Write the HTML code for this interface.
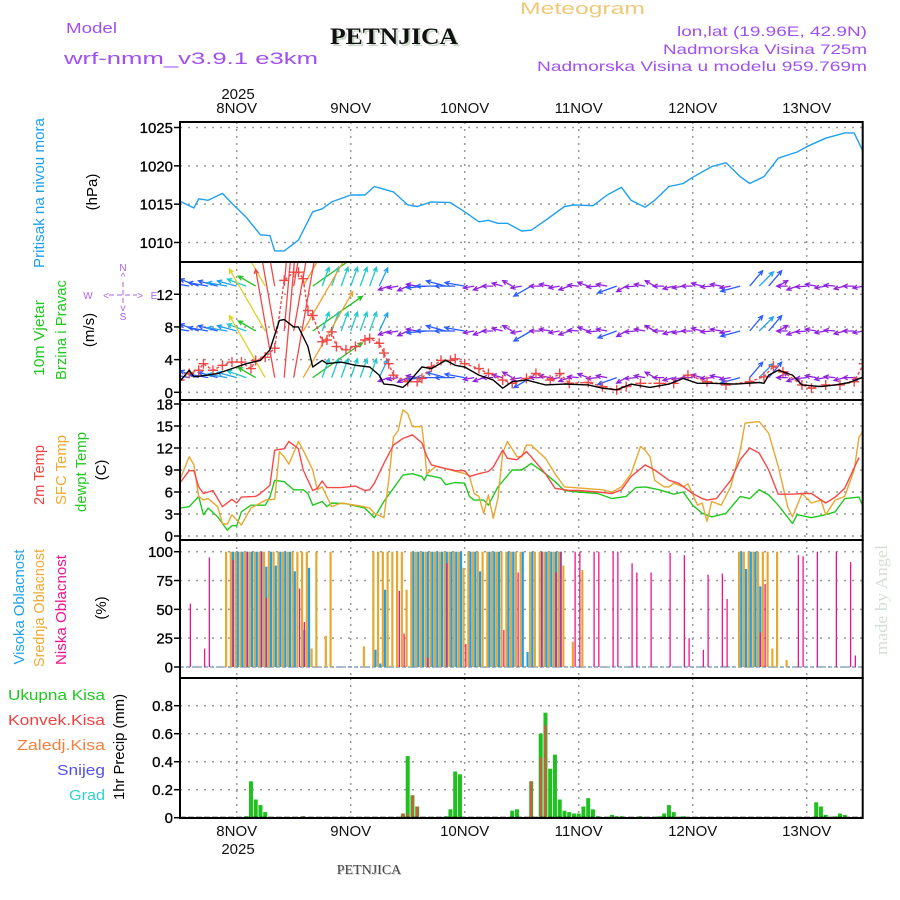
<!DOCTYPE html>
<html><head><meta charset="utf-8"><title>Meteogram PETNJICA</title>
<style>
html,body{margin:0;padding:0;background:#fff;}
svg{display:block;font-family:"Liberation Sans",sans-serif;}
</style></head>
<body>
<svg id="chart" width="900" height="900" viewBox="0 0 900 900" xmlns="http://www.w3.org/2000/svg">
<defs>
<clipPath id="clipP1"><rect x="180" y="122" width="683" height="140"/></clipPath>
<clipPath id="clipP2"><rect x="180" y="262" width="683" height="138"/></clipPath>
<clipPath id="clipP3"><rect x="180" y="400" width="683" height="140"/></clipPath>
</defs>
<rect x="0" y="0" width="900" height="900" fill="#fff"/>
<!-- header -->
<text x="66" y="33" font-size="15" fill="#A050F0" textLength="51" lengthAdjust="spacingAndGlyphs">Model</text>
<text x="64" y="64" font-size="17" fill="#A050F0" textLength="254" lengthAdjust="spacingAndGlyphs">wrf-nmm_v3.9.1  e3km</text>
<text x="520" y="14" font-size="17" fill="#F0C878" textLength="125" lengthAdjust="spacingAndGlyphs">Meteogram</text>
<text x="332" y="46" font-size="23" font-weight="bold" font-family="Liberation Serif, serif" fill="#c8d8c8" textLength="128" lengthAdjust="spacingAndGlyphs">PETNJICA</text>
<text x="330" y="44" font-size="23" font-weight="bold" font-family="Liberation Serif, serif" fill="#111" textLength="128" lengthAdjust="spacingAndGlyphs">PETNJICA</text>
<text x="867" y="36" font-size="14" fill="#A050F0" text-anchor="end" textLength="190" lengthAdjust="spacingAndGlyphs">lon,lat (19.96E, 42.9N)</text>
<text x="867" y="54" font-size="14" fill="#A050F0" text-anchor="end" textLength="204" lengthAdjust="spacingAndGlyphs">Nadmorska Visina 725m</text>
<text x="867" y="71" font-size="14" fill="#A050F0" text-anchor="end" textLength="330" lengthAdjust="spacingAndGlyphs">Nadmorska Visina u modelu 959.769m</text>

<!-- left labels -->
<text transform="translate(44,193) rotate(-90)" font-size="15" fill="#1EA0F0" text-anchor="middle" textLength="150" lengthAdjust="spacingAndGlyphs">Pritisak  na  nivou  mora</text>
<text transform="translate(97,192) rotate(-90)" font-size="15" fill="#000" text-anchor="middle">(hPa)</text>
<text transform="translate(44,338) rotate(-90)" font-size="15" fill="#20C820" text-anchor="middle" textLength="76" lengthAdjust="spacingAndGlyphs">10m Vjetar</text>
<text transform="translate(66,330) rotate(-90)" font-size="15" fill="#20C820" text-anchor="middle" textLength="100" lengthAdjust="spacingAndGlyphs">Brzina i Pravac</text>
<text transform="translate(94,330) rotate(-90)" font-size="15" fill="#000" text-anchor="middle">(m/s)</text>
<g font-size="10" fill="#B060F0">
<text x="123" y="271" text-anchor="middle">N</text><text x="123" y="280" text-anchor="middle">^</text>
<text x="123" y="320" text-anchor="middle">S</text><text x="123" y="311" text-anchor="middle">v</text>
<text x="88" y="299" text-anchor="middle">W</text><text x="154" y="299" text-anchor="middle">E</text>
<text x="106" y="299" text-anchor="middle">&lt;</text><text x="140" y="299" text-anchor="middle">&gt;</text>
<line x1="109" y1="295" x2="137" y2="295" stroke="#B060F0" stroke-dasharray="5,3"/>
<line x1="123" y1="282" x2="123" y2="306" stroke="#B060F0" stroke-dasharray="5,3"/>
</g>
<text transform="translate(44,475) rotate(-90)" font-size="15" fill="#F04040" text-anchor="middle" textLength="60" lengthAdjust="spacingAndGlyphs">2m Temp</text>
<text transform="translate(66,470) rotate(-90)" font-size="15" fill="#F0A830" text-anchor="middle" textLength="70" lengthAdjust="spacingAndGlyphs">SFC Temp</text>
<text transform="translate(86,472) rotate(-90)" font-size="15" fill="#20C820" text-anchor="middle" textLength="80" lengthAdjust="spacingAndGlyphs">dewpt Temp</text>
<text transform="translate(106,470) rotate(-90)" font-size="15" fill="#000" text-anchor="middle">(C)</text>
<text transform="translate(24,607) rotate(-90)" font-size="15" fill="#1EA0F0" text-anchor="middle" textLength="115" lengthAdjust="spacingAndGlyphs">Visoka Oblacnost</text>
<text transform="translate(44,608) rotate(-90)" font-size="15" fill="#F0A830" text-anchor="middle" textLength="118" lengthAdjust="spacingAndGlyphs">Srednja Oblacnost</text>
<text transform="translate(66,610) rotate(-90)" font-size="15" fill="#F0148C" text-anchor="middle" textLength="110" lengthAdjust="spacingAndGlyphs">Niska Oblacnost</text>
<text transform="translate(106,608) rotate(-90)" font-size="15" fill="#000" text-anchor="middle">(%)</text>
<text x="105" y="700" font-size="15" fill="#20C820" text-anchor="end" textLength="97" lengthAdjust="spacingAndGlyphs">Ukupna  Kisa</text>
<text x="105" y="725" font-size="15" fill="#F04040" text-anchor="end" textLength="97" lengthAdjust="spacingAndGlyphs">Konvek.Kisa</text>
<text x="105" y="750" font-size="15" fill="#F08040" text-anchor="end" textLength="88" lengthAdjust="spacingAndGlyphs">Zaledj.Kisa</text>
<text x="105" y="775" font-size="15" fill="#5050F0" text-anchor="end" textLength="48" lengthAdjust="spacingAndGlyphs">Snijeg</text>
<text x="105" y="800" font-size="15" fill="#30D0D0" text-anchor="end" textLength="36" lengthAdjust="spacingAndGlyphs">Grad</text>
<text transform="translate(124,747) rotate(-90)" font-size="15" fill="#000" text-anchor="middle" textLength="106" lengthAdjust="spacingAndGlyphs">1hr Precip (mm)</text>
<text transform="translate(887,600) rotate(-90)" font-size="17" font-family="Liberation Serif, serif" fill="#d4e0d4" text-anchor="middle" textLength="110" lengthAdjust="spacingAndGlyphs">made by Angel</text>
<text x="370" y="875" font-size="14" font-family="Liberation Serif, serif" fill="#ccc" text-anchor="middle">PETNJICA</text>
<text x="369" y="874" font-size="14" font-family="Liberation Serif, serif" fill="#444" text-anchor="middle">PETNJICA</text>
<text x="238" y="99" font-size="15" fill="#111" text-anchor="middle">2025</text>
<text x="238" y="854" font-size="15" fill="#111" text-anchor="middle">2025</text>
<g id="plot"></g>
</svg>
<script>
// time axis (hours from 8 NOV 00 UTC)
const dayLabels = ["8NOV","9NOV","10NOV","11NOV","12NOV","13NOV"];
const dayHours = [0,24,48,72,96,120];
// pressure
const presHours = [-12,-9,-8,-6,-3,-1,2,5,7,8,10,13,16,18,20,24,27,29,33,36,38,41,45,48,51,53,55,57,60,62,65,69,71,75,78,81,83,86,88,91,94,96,100,103,106,108,111,114,118,120,124,128,130,132];
const presVals = [1015.4,1014.5,1015.7,1015.5,1016.4,1015.1,1013.3,1011.0,1010.9,1008.9,1008.9,1010.3,1014.0,1014.4,1015.3,1016.2,1016.2,1017.3,1016.6,1014.9,1014.7,1015.3,1015.2,1014.0,1012.7,1012.9,1012.5,1012.5,1011.5,1011.6,1012.9,1014.7,1014.9,1014.8,1016.2,1017.2,1015.5,1014.6,1015.5,1017.3,1017.7,1018.5,1019.9,1020.4,1018.6,1017.7,1018.6,1021.0,1021.8,1022.5,1023.6,1024.3,1024.3,1021.7];
const presTicks = [1010,1015,1020,1025];
// wind speed / gust
const windHours = [-12,-10,-9,-6,-4,-1,2,5,7,9,10,12,13,15,16,18,19,22,25,28,30,31,33,35,36,39,41,44,46,48,51,54,56,58,61,65,69,74,77,80,83,87,91,94,97,100,105,110,111,112,114,117,119,123,126,129,132];
const windSpeed = [1.3,2.7,1.9,2.1,2.3,2.9,3.5,3.9,5.2,8.8,8.9,8.0,8.0,5.6,3.1,3.9,3.5,3.7,3.3,3.1,2.1,1.0,0.9,0.6,1.1,3.1,2.9,3.9,3.3,3.1,2.1,1.5,0.5,1.3,1.5,0.9,1.0,0.9,0.5,0.3,1.0,0.6,1.0,1.7,1.1,1.1,1.0,1.2,1.1,2.1,2.7,2.1,0.9,0.7,0.9,1.2,1.9];
const gustHours = [-12,-10,-8,-7,-5,-3,-1,1,3,4,6,8,10,12,13,14,15,16,18,19,20,21,23,25,27,28,30,31,32,33,36,38,39,41,43,45,46,48,51,53,56,58,61,63,66,68,70,74,77,80,82,85,89,92,95,99,103,108,111,113,115,119,121,124,127,130,132];
const gustVals = [1.5,2.3,2.7,3.5,2.7,3.3,3.7,3.7,2.9,3.9,4.3,5.4,13.7,14.7,14.7,13.9,10.0,9.4,6.2,6.4,7.4,5.6,5.2,5.6,6.4,6.6,6.0,4.8,3.5,2.1,1.3,1.3,1.7,3.1,3.9,3.9,4.1,3.5,2.9,2.3,1.5,1.1,1.7,2.3,1.5,2.3,1.1,1.2,0.7,0.3,0.7,1.1,1.1,1.1,2.1,1.3,0.9,1.3,1.9,3.2,2.5,0.9,0.5,0.9,0.9,1.3,3.5];
const windTicks = [0,4,8,12];
// wind arrows (2-hourly from -12 to 132)
const arrowHours = [-12,-10,-8,-6,-4,-2,0,2,4,6,8,10,12,14,16,18,20,22,24,26,28,30,32,34,36,38,40,42,44,46,48,50,52,54,56,58,60,62,64,66,68,70,72,74,76,78,80,82,84,86,88,90,92,94,96,98,100,102,104,106,108,110,112,114,116,118,120,122,124,126,128,130,132];
const arrowDir = [285,280,290,280,285,280,285,290,300,330,350,5,10,30,55,20,20,20,20,20,20,25,250,260,245,280,265,270,285,270,280,260,250,270,285,300,260,240,270,280,260,250,275,290,265,280,250,240,265,280,300,270,255,260,270,285,265,280,260,255,40,45,40,60,270,250,265,280,260,275,255,270,260];
const arrowSpd = [2.0,2.4,2.6,2.3,2.2,2.8,3.0,3.4,4.8,6.5,10,12.5,13,9,5.5,3.8,3.7,3.8,3.6,3.5,3.4,3.2,1.2,1.0,1.1,1.0,2.5,2.4,2.2,2.6,2.3,1.3,1.1,1.0,1.2,1.1,0.9,2.2,1.2,1.0,1.1,1.0,0.9,1.0,1.1,1.2,2.4,1.2,1.0,1.1,1.0,1.1,1.2,1.0,1.1,0.9,1.0,1.1,1.2,2.3,2.6,2.8,2.4,1.2,1.1,1.0,1.2,1.0,1.1,1.0,1.2,1.0,1.1];
const arrowRows = [13.0,7.5,1.8];
// temperatures
const t2Hours = [-12,-10,-9,-8,-7,-6,-5,-3,-1,0,1,4,5,7,8,10,11,13,14,16,17,18,19,22,25,27,28,29,31,33,35,37,39,40,41,44,46,48,49,51,53,54,56,57,59,61,62,65,67,70,72,76,79,81,83,86,88,91,93,96,98,99,101,104,106,108,110,112,114,117,119,121,124,126,128,131];
const t2Vals = [7.2,8.9,8.9,6.7,5.8,6.0,6.2,4.0,5.0,4.5,5.3,5.4,5.8,6.9,11.7,11.9,12.9,11.9,9.0,6.2,6.5,7.5,6.6,6.6,6.8,6.2,6.3,7.2,9.9,12.4,13.3,13.8,12.7,10.9,9.7,9.2,8.9,8.9,8.1,8.5,8.8,9.4,11.7,10.6,10.4,11.5,10.8,8.5,6.5,6.2,6.2,6.0,5.8,6.3,8.1,9.7,9.0,7.6,7.2,5.8,5.1,4.9,5.1,7.6,10.4,12.0,11.3,9.0,5.7,5.7,5.8,5.8,4.5,5.3,6.5,10.7];
const sfcHours = [-12,-10,-9,-8,-7,-6,-4,-3,-2,-1,1,3,5,6,8,9,10,11,13,14,16,17,18,20,22,26,28,29,31,32,33,34,35,36,37,39,39.5,40,42,45,48,49,50,51,52,53,54,55,56,57,59,60,61,62,65,67,69,73,77,79,81,83,85,86,87,88,90,91,92,94,95,97,98,99,100,102,104,106,107,110,112,114,116,117,119,121,123,124,126,128,130,131,132];
const sfcVals = [7.6,10.8,9.7,5.4,4.9,5.1,4.0,1.7,1.6,2.9,1.5,3.8,4.5,4.9,5.0,11.5,10.8,9.8,12.9,11.7,9.0,6.3,6.7,4.0,4.5,4.1,3.8,3.1,2.5,7.6,13.5,14.4,17.2,16.7,14.9,14.9,12.2,8.5,9.5,9.0,8.5,8.2,5.8,5.4,3.1,5.6,2.4,5.1,11.3,12.9,10.8,10.8,12.4,12.4,10.6,8.5,6.7,6.5,6.3,6.0,6.7,8.5,12.2,11.7,10.8,7.6,6.7,6.7,7.2,6.7,7.1,4.2,4.5,2.0,4.7,4.2,6.7,11.7,15.4,15.6,14.0,9.5,4.0,2.6,5.8,4.5,4.9,2.9,4.9,5.4,9.0,13.5,14.4,14.2];
const dewHours = [-12,-10,-8,-7,-6,-4,-2,-1,0,1,3,6,7,8,10,12,14,15,16,18,19,20,23,27,29,31,33,35,37,39,39.5,40,43,44,46,48,49,50,52,53,55,58,60,62,65,67,69,72,76,79,82,84,86,89,92,94,96,98,100,103,106,108,110,112,114,117,118,121,124,126,128,131,132];
const dewVals = [3.8,4.0,5.4,2.9,3.8,2.6,0.8,1.4,1.4,3.3,4.2,4.2,5.3,7.6,7.4,6.3,6.3,5.8,4.2,4.7,4.0,4.5,4.4,3.8,2.5,4.7,6.5,8.3,8.5,8.1,7.6,8.3,7.9,7.0,7.3,7.2,5.4,4.9,4.9,4.2,6.7,9.0,9.0,9.9,8.5,7.4,6.2,6.0,5.8,5.1,5.4,6.6,6.7,6.3,5.7,6.0,4.2,3.1,2.6,3.1,5.4,5.1,6.3,5.6,4.2,1.7,2.9,2.5,2.9,3.3,5.1,5.3,3.8];
const tempTicks = [0,3,6,9,12,15,18];
// cloud cover (hourly -12..132)
const cloudHigh = [0,0,0,0,0,0,0,0,0,0,0,100,
100,100,100,100,100,100,87,100,88,100,100,100,
83,0,32,86,0,0,0,0,0,0,0,0,
0,0,0,0,0,15,3,67,0,0,0,0,
0,100,100,100,100,100,100,100,100,100,100,100,
0,100,100,83,0,100,100,100,0,100,100,0,
100,13,100,0,100,100,100,100,100,0,0,0,
0,0,0,0,0,0,0,0,0,0,0,0,
0,0,0,0,0,0,0,0,0,0,0,0,
0,0,0,0,0,0,0,0,0,0,100,85,
100,100,70,0,0,0,0,0,0,0,0,0,
0,0,0,0,0,0,0,0,0,0,0,0,
0];
const cloudMid = [0,0,0,0,0,0,0,0,0,0,100,100,
100,100,100,100,100,100,100,100,100,100,100,100,
100,100,100,100,16,100,0,27,100,0,0,0,
0,0,0,18,0,100,100,100,100,100,100,100,
67,100,100,100,100,100,100,100,100,100,100,100,
86,100,100,100,100,100,100,100,100,100,100,100,
100,0,100,100,100,100,100,100,100,88,0,22,
0,84,0,0,0,0,0,0,0,0,0,0,
0,0,0,0,0,0,0,0,0,0,0,0,
0,0,0,0,0,0,0,0,0,0,100,100,
100,100,100,100,100,16,100,0,6,0,0,0,
0,0,0,0,0,0,0,0,0,0,0,0,
0];
const cloudLow = [0,0,55,0,0,16,95,0,0,0,0,93,
0,0,100,0,0,100,60,0,0,0,0,0,
0,68,39,0,0,0,0,0,0,0,0,0,
0,0,0,0,0,0,0,0,0,0,66,29,
0,0,0,0,8,0,0,0,90,0,0,0,
20,0,0,0,0,0,0,0,32,0,0,82,
0,0,0,0,100,0,0,82,100,0,0,100,
100,0,0,100,100,0,0,100,100,0,0,90,
82,0,0,82,0,0,0,99,0,0,97,25,
0,0,15,80,0,0,81,59,0,0,0,0,
0,0,30,72,0,0,0,0,0,0,97,96,
0,0,100,0,0,0,100,0,0,91,10,0,
0];
const cloudTicks = [0,25,50,75,100];
// precipitation
const precipHours = [2,3,4,5,6,14,35,36,37,38,44,45,46,47,58,59,62,64,65,66,67,68,69,70,71,72,73,74,75,76,79,80,81,85,89,90,91,92,94,122,123,124,126,127,128];
const precipTotal = [0.01,0.26,0.13,0.09,0.04,0.01,0.03,0.44,0.16,0.08,0.01,0.06,0.33,0.31,0.05,0.06,0.26,0.60,0.75,0.35,0.45,0.13,0.05,0.04,0.03,0.03,0.08,0.14,0.06,0.01,0.02,0.01,0.01,0.01,0.01,0.03,0.09,0.04,0.01,0.11,0.08,0.02,0.01,0.03,0.02];
const precipConv = [0,0,0,0,0,0.01,0.03,0.03,0.16,0.08,0,0,0,0,0,0,0.26,0.43,0.66,0,0,0,0,0,0,0,0,0,0,0,0,0,0,0,0,0,0,0,0,0,0,0,0,0,0];
const precipTicks = [0,0.2,0.4,0.6,0.8];

const NS = "http://www.w3.org/2000/svg";
const plot = document.getElementById('plot');
const L = 180, R = 862.7;
function X(h){ return 236.7 + h * 4.75; }
const Yp = p => 127.5 + (1025 - p) * 7.667;
const Yw = w => 392.3 - w * 8.17;
const Yt = t => 536 - t * 7.333;
const Yc = c => 667 - c * 1.153;
const Yr = r => 817.7 - r * 140;
function mk(tag, attrs, parent){
  const e = document.createElementNS(NS, tag);
  for (const k in attrs) e.setAttribute(k, attrs[k]);
  (parent || plot).appendChild(e);
  return e;
}
function group(name, clip){
  const g = mk('g', clip ? {'clip-path': 'url(#' + clip + ')'} : {});
  
  
  return g;
}
const panels = [
  {name:'pressure', top:122, bot:262, ticks:presTicks, Y:Yp, fmt:v=>String(v)},
  {name:'wind', top:262, bot:400, ticks:windTicks, Y:Yw, fmt:v=>String(v)},
  {name:'temperature', top:400, bot:540, ticks:tempTicks, Y:Yt, fmt:v=>String(v)},
  {name:'cloud', top:540, bot:678, ticks:cloudTicks, Y:Yc, fmt:v=>String(v)},
  {name:'precip', top:678, bot:818, ticks:precipTicks, Y:Yr, fmt:v=>v===0?'0':v.toFixed(1)}
];
// grids
const gridG = group('grid-lines');
panels.forEach(p => {
  dayHours.forEach(h => {
    const l = mk('line', {x1:X(h), x2:X(h), y1:p.top, y2:p.bot, stroke:'#999', 'stroke-width':1.5, 'stroke-dasharray':'2,5'}, gridG);
    
    
  });
  p.ticks.forEach(v => {
    const y = p.Y(v);
    if (y > p.top + 2 && y < p.bot - 2) {
      const l = mk('line', {x1:L, x2:R, y1:y, y2:y, stroke:'#999', 'stroke-width':1.5, 'stroke-dasharray':'2,6'}, gridG);
      
      
    }
  });
});
// tick labels
panels.forEach(p => {
  const g = group(p.name + '-y-axis');
  p.ticks.forEach(v => {
    const y = p.Y(v);
    const t = mk('text', {x:173, y:y + 5.5, 'font-size':15, 'text-anchor':'end', fill:'#000', 'stroke':'#000', 'stroke-width':0.3}, g);
    t.textContent = p.fmt(v);
    
    
    const tk = mk('line', {x1:174, x2:180, y1:y, y2:y, stroke:'#000', 'stroke-width':1.5}, g);
    
    
  });
});
// day labels
const dayG = group('x-axis-labels');
dayLabels.forEach((d, i) => {
  const t1 = mk('text', {x:X(dayHours[i]), y:113, 'font-size':15, 'text-anchor':'middle', fill:'#111'}, dayG);
  t1.textContent = d;
  
  
  const t2 = mk('text', {x:X(dayHours[i]), y:836, 'font-size':15, 'text-anchor':'middle', fill:'#111'}, dayG);
  t2.textContent = d;
  
  
});
function line(hours, vals, Y, color, g, extra){
  const pts = hours.map((h, i) => X(h).toFixed(1) + ',' + Y(vals[i]).toFixed(1)).join(' ');
  const attrs = {points:pts, fill:'none', stroke:color, 'stroke-width':1.4, 'stroke-linejoin':'round'};
  if (extra) Object.assign(attrs, extra);
  return mk('polyline', attrs, g);
}
// pressure
const pg = group('pressure-series', 'clipP1');
const pl = line(presHours, presVals, Yp, '#1EA0F0', pg);


// wind arrows
function spdColor(s){
  if (s < 1.5) return '#9020E0';
  if (s < 2.7) return '#2A5CFF';
  if (s < 3.3) return '#20A0F0';
  if (s < 4.5) return '#20C8C8';
  if (s < 6) return '#20C020';
  if (s < 8) return '#E0D020';
  if (s < 10) return '#F0A030';
  return '#F04848';
}
const ag = group('wind-arrows', 'clipP2');
arrowRows.forEach(rv => {
  arrowHours.forEach((h, i) => {
    const s = arrowSpd[i];
    const len = s < 1.5 ? 11 : (s < 5 ? 20 : s * 11);
    const a = arrowDir[i] * Math.PI / 180;
    const x0 = X(h), y0 = Yw(rv);
    const x1 = x0 + len * Math.sin(a), y1 = y0 - len * Math.cos(a);
    const c = spdColor(s);
    const hl = 5;
    const a1 = a + Math.PI - 0.45, a2 = a + Math.PI + 0.45;
    const d = 'M' + x0.toFixed(1) + ',' + y0.toFixed(1) + 'L' + x1.toFixed(1) + ',' + y1.toFixed(1) +
      'M' + (x1 + hl*Math.sin(a1)).toFixed(1) + ',' + (y1 - hl*Math.cos(a1)).toFixed(1) + 'L' + x1.toFixed(1) + ',' + y1.toFixed(1) +
      'L' + (x1 + hl*Math.sin(a2)).toFixed(1) + ',' + (y1 - hl*Math.cos(a2)).toFixed(1);
    const p = mk('path', {d:d, stroke:c, 'stroke-width':1.3, fill:'none'}, ag);
    
    
  });
});
// wind speed & gust
const wg = group('wind-series', 'clipP2');
const gl = line(gustHours, gustVals, Yw, '#F04848', wg, {'stroke-dasharray':'3,2'});


gustHours.forEach((h, i) => {
  const x = X(h), y = Yw(gustVals[i]);
  const m = mk('path', {d:'M'+(x-5)+','+y+'h10M'+x+','+(y-5)+'v10', stroke:'#F04848', 'stroke-width':1.4}, wg);
  
  
});
const sl = line(windHours, windSpeed, Yw, '#000', wg);


// temperature
const tg = group('temperature-series', 'clipP3');
const dl = line(dewHours, dewVals, Yt, '#20C820', tg);


const sfl = line(sfcHours, sfcVals, Yt, '#E8A830', tg);


const t2l = line(t2Hours, t2Vals, Yt, '#F84848', tg);


// clouds
const cg = group('cloud-bars');
const base = Yc(0);
const cb = mk('line', {x1:L, x2:R, y1:base, y2:base, stroke:'#88aacc', 'stroke-width':1.5, 'stroke-dasharray':'4,2'}, cg);


cloudMid.forEach((v, i) => {
  if (v <= 0) return;
  const x = X(i - 12);
  const r = mk('rect', {x:x-2.2, y:Yc(v), width:2.2, height:base - Yc(v), fill:'#E8A830'}, cg);
  
  
});
cloudHigh.forEach((v, i) => {
  if (v <= 0) return;
  const x = X(i - 12);
  const r = mk('rect', {x:x, y:Yc(v), width:2.2, height:base - Yc(v), fill:'#1EA0F0'}, cg);
  
  
});
cloudLow.forEach((v, i) => {
  if (v <= 0) return;
  const x = X(i - 12);
  const r = mk('rect', {x:x+0.5, y:Yc(v), width:1.3, height:base - Yc(v), fill:'#F0148C'}, cg);
  
  
});
// precipitation
const rg = group('precip-bars');
const pb = Yr(0);
precipHours.forEach((h, i) => {
  const x = X(h);
  const r = mk('rect', {x:x-2, y:Yr(precipTotal[i]), width:4, height:pb - Yr(precipTotal[i]), fill:'#20C020'}, rg);
  
  
  if (precipConv[i] > 0) {
    const c = mk('rect', {x:x-1, y:Yr(precipConv[i]), width:2, height:pb - Yr(precipConv[i]), fill:'#F04848'}, rg);
    
    
  }
});
const zb = mk('line', {x1:L, x2:R, y1:pb, y2:pb, stroke:'#000', 'stroke-width':2, 'stroke-dasharray':'6,2'}, rg);


// frames
const fg = group('panel-frames');
panels.forEach(p => {
  const r = mk('rect', {x:L, y:p.top, width:R - L, height:p.bot - p.top, fill:'none', stroke:'#000', 'stroke-width':2}, fg);
  
  
});
</script>
</body></html>
